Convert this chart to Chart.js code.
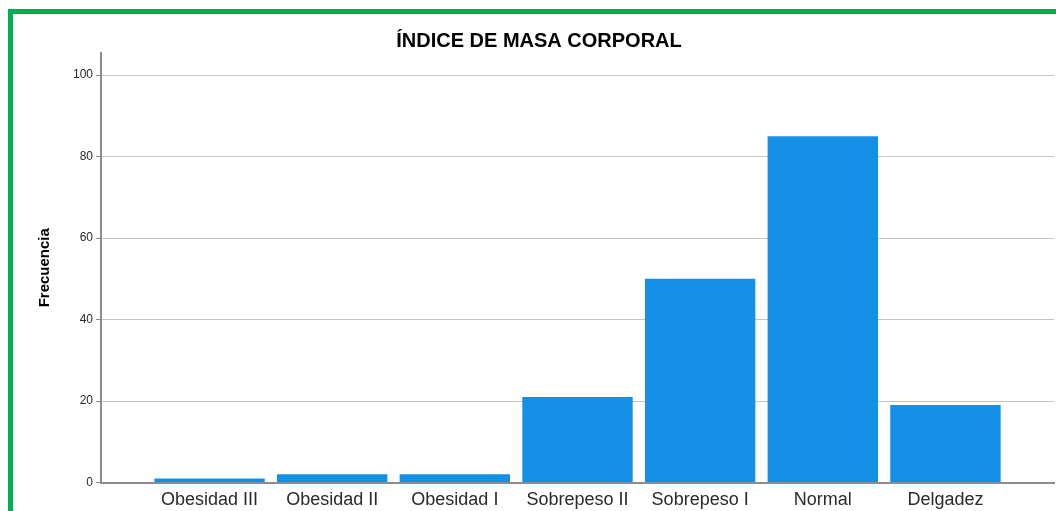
<!DOCTYPE html>
<html>
  <head>
    <style>
      html, body {
        margin: 0;
        background: #FFFFFF;
        overflow: hidden;
      }
      #frame {
        position: absolute;
        left: 8px;
        top: 9px;
        width: 1200px;
        height: 700px;
        border: 5px solid #00B04F;
      }
      #chart {
        position: absolute;
        left: 0;
        top: 0;
      }
    </style>
  </head>
  <body>
    <div id="frame"></div>
    <canvas id="chart" width="1056" height="511"></canvas>

    <script src="https://cdn.jsdelivr.net/npm/chart.js"></script>
    <script>
      const categories = ["Obesidad III", "Obesidad II", "Obesidad I", "Sobrepeso II", "Sobrepeso I", "Normal", "Delgadez"];
      const frecuencia = [1, 2, 2, 21, 50, 85, 19];
      const yTicks = [0, 20, 40, 60, 80, 100];

      const barColor = '#1490E6';
      const gridColor = '#C4C4C4';
      const axisColor = '#8C8C8C';
      const textColor = '#2A2A2A';

      const canvas = document.getElementById('chart');

      new Chart(canvas, {
        type: 'bar',
        data: {
          datasets: [{
            label: 'Frecuencia',
            data: frecuencia.map((v, i) => ({ x: i, y: v })),
            backgroundColor: barColor,
            borderWidth: 0,
            categoryPercentage: 1,
            barPercentage: 0.9
          }]
        },
        options: {
          responsive: false,
          animation: false,
          layout: {
            padding: { left: 24, right: 2, top: 0, bottom: 0 }
          },
          plugins: {
            legend: { display: false },
            tooltip: { enabled: false },
            title: {
              display: true,
              text: 'ÍNDICE DE MASA CORPORAL',
              color: '#000000',
              font: { family: 'Liberation Sans', size: 20, weight: 'bold' },
              padding: { top: 29, bottom: 0 }
            }
          },
          scales: {
            x: {
              type: 'linear',
              offset: false,
              bounds: 'data',
              min: -0.885,
              max: categories.length - 1 + 0.885,
              afterBuildTicks: function (axis) {
                axis.ticks = categories.map((c, i) => ({ value: i }));
              },
              afterFit: function (axis) {
                axis.height = 28.5;
              },
              grid: { display: false, drawTicks: false },
              border: { display: true, color: axisColor, width: 2 },
              ticks: {
                autoSkip: false,
                maxRotation: 0,
                padding: 7,
                color: textColor,
                font: { family: 'Liberation Sans', size: 18 },
                callback: function (value) {
                  return categories[value];
                }
              }
            },
            y: {
              min: 0,
              max: 105.4,
              afterBuildTicks: function (axis) {
                axis.ticks = yTicks.map(v => ({ value: v }));
              },
              afterFit: function (axis) {
                axis.width = 77;
              },
              grid: {
                color: gridColor,
                lineWidth: 1,
                drawTicks: true,
                tickLength: 5,
                tickColor: axisColor
              },
              border: { display: true, color: axisColor, width: 2 },
              ticks: {
                padding: 3,
                color: textColor,
                font: { family: 'Liberation Sans', size: 12 }
              },
              title: {
                display: true,
                text: 'Frecuencia',
                color: '#000000',
                font: { family: 'Liberation Sans', size: 15, weight: 'bold' },
                padding: { top: 12, bottom: 0 }
              }
            }
          }
        }
      });
    </script>
  </body>
</html>
